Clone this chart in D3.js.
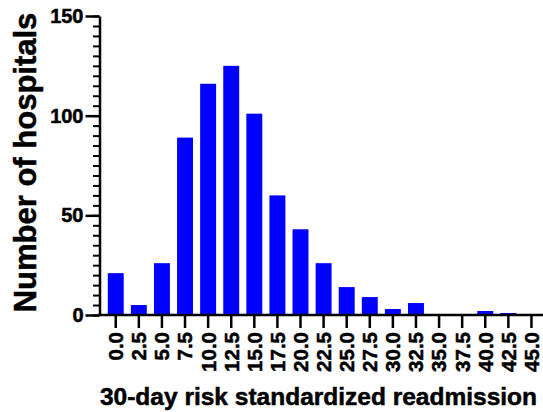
<!DOCTYPE html>
<html>
<head>
<meta charset="utf-8">
<script src="https://cdn.jsdelivr.net/npm/d3@7"></script>
<style>
  body { margin: 0; background: #fff; }
  text { font-family: "Liberation Sans", Arial, sans-serif; font-weight: bold; stroke: #000; stroke-width: 0.5px; }
</style>
</head>
<body>
<div id="chart"></div>
<script>
// bin labels (readmission %) and hospital counts
var bins = ["0.0", "2.5", "5.0", "7.5", "10.0", "12.5", "15.0", "17.5", "20.0", "22.5",
            "25.0", "27.5", "30.0", "32.5", "35.0", "37.5", "40.0", "42.5", "45.0"];
var counts = [21, 5, 26, 89, 116, 125, 101, 60, 43, 26, 14, 9, 3, 6, 0, 0, 2, 1, 0];
var yTicks = [0, 50, 100, 150];

var width = 543, height = 412;
var axisX = 99.5, y0 = 315, y1 = 16;

var svg = d3.select("#chart").append("svg")
    .attr("width", width)
    .attr("height", height);

var x = d3.scaleBand()
    .domain(bins)
    .range([104.2, 543])
    .paddingInner(0.31)
    .paddingOuter(0.155);

var y = d3.scaleLinear()
    .domain([0, 150])
    .range([y0, y1]);

// bars
svg.selectAll(".bar")
    .data(counts)
    .enter().append("rect")
    .attr("class", "bar")
    .attr("x", function(d, i) { return x(bins[i]); })
    .attr("width", x.bandwidth())
    .attr("y", function(d) { return y(d); })
    .attr("height", function(d) { return y0 - y(d); })
    .attr("fill", "#0000ff");

// y axis with minor ticks every 5
var yMinor = svg.append("g")
    .attr("transform", "translate(" + axisX + ",0)")
    .call(d3.axisLeft(y).tickValues(d3.range(0, 151, 5)).tickSize(6.5).tickFormat(""));
yMinor.select(".domain").remove();
yMinor.selectAll("line").attr("stroke-width", 2);

var yAxis = svg.append("g")
    .attr("transform", "translate(" + axisX + ",0)")
    .call(d3.axisLeft(y).tickValues(yTicks).tickSize(14).tickSizeOuter(0).tickPadding(2));
yAxis.select(".domain").attr("stroke-width", 2.5);
yAxis.selectAll("line").attr("stroke-width", 2.5);
yAxis.selectAll("text")
    .style("font-size", "20px")
    .attr("fill", "#000");

// x axis
var xAxis = svg.append("g")
    .attr("transform", "translate(0," + y0 + ")")
    .call(d3.axisBottom(x).tickSize(13).tickSizeOuter(0));
xAxis.select(".domain")
    .attr("d", "M" + (axisX - 1.25) + ",0H" + width)
    .attr("stroke-width", 2.5);
xAxis.selectAll("line").attr("stroke-width", 2.5);
xAxis.selectAll("text")
    .style("font-size", "20.5px")
    .attr("fill", "#000")
    .attr("text-anchor", "end")
    .attr("transform", "rotate(-90)")
    .attr("x", -17)
    .attr("y", 0)
    .attr("dy", "0.36em");

// axis titles
svg.append("text")
    .attr("transform", "translate(36," + ((y0 + y1) / 2 - 3) + ") rotate(-90)")
    .attr("text-anchor", "middle")
    .style("font-size", "31px")
    .text("Number of hospitals");

svg.append("text")
    .attr("x", 318.5)
    .attr("y", 405)
    .attr("text-anchor", "middle")
    .style("font-size", "24.5px")
    .text("30-day risk standardized readmission");
</script>
</body>
</html>
